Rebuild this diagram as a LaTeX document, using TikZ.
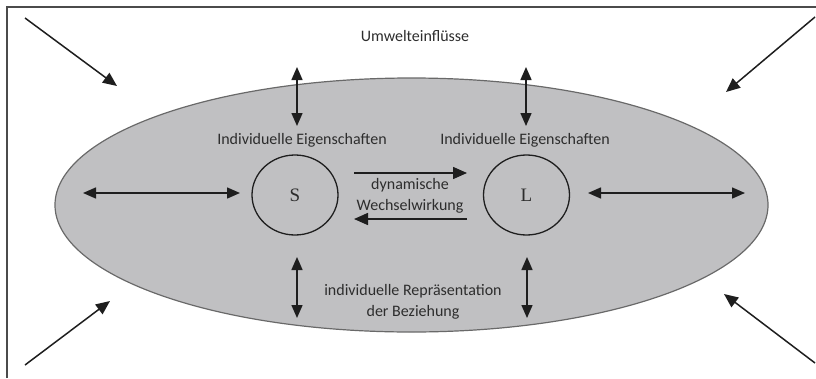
\documentclass[tikz,border=0pt]{standalone}
\usepackage{fontspec}
\setmainfont{Carlito}
\newfontfamily\serifft{Liberation Serif}
\usetikzlibrary{arrows.meta,shapes.geometric}
\definecolor{ellfill}{RGB}{192,192,194}
\definecolor{ellline}{RGB}{105,105,105}
\definecolor{ink}{RGB}{30,30,30}
\definecolor{txt}{RGB}{45,45,45}
\tikzset{
  arr/.style={draw=ink, line width=1.5pt, -{Triangle[length=14pt,width=12pt]}},
  darr/.style={draw=ink, line width=1.5pt, {Triangle[length=13pt,width=11pt]}-{Triangle[length=13pt,width=11pt]}},
  lbl/.style={text=txt, font=\fontsize{16}{19}\selectfont, align=center, inner sep=0pt},
  person/.style={ellipse, draw=ink, line width=1.3pt, minimum width=86pt, minimum height=80pt, inner sep=0pt, font=\serifft\fontsize{19}{21}\selectfont, text=txt}
}
\begin{document}
\begin{tikzpicture}[x=1pt,y=-1pt]
\useasboundingbox (0,0) rectangle (816,378);
% frame (top and left edges)
\draw[draw=ink!80, line width=1.8pt] (7,378) -- (7,7) -- (816,7);
% big ellipse
\node[ellipse, draw=ellline, fill=ellfill, line width=1.2pt, minimum width=713pt, minimum height=254pt, inner sep=0pt] (env) at (411.5,205) {};
% title
\node[lbl] (umw) at (415,36) {Umwelteinflüsse};
% persons
\node[person] (S) at (295,195) {S};
\node[person] (L) at (526.5,195) {L};
% labels
\node[lbl] (eigS) at (302,140) {Individuelle Eigenschaften};
\node[lbl] (eigL) at (525,140) {Individuelle Eigenschaften};
\node[lbl] (dyn) at (410,196) {dynamische\\[2pt]Wechselwirkung};
\node[lbl] (rep) at (413,302) {individuelle Repräsentation\\[2pt]der Beziehung};
% coordinates for free ends
\coordinate (tl0) at (25,18);   \coordinate (tl1) at (117,86);
\coordinate (tr0) at (815,17);  \coordinate (tr1) at (726,92);
\coordinate (bl0) at (25,365);  \coordinate (bl1) at (110,301);
\coordinate (br0) at (815,363); \coordinate (br1) at (724,294);
\coordinate (hl0) at (83,193);  \coordinate (hl1) at (240,193);
\coordinate (hr0) at (588,193); \coordinate (hr1) at (745,193);
\coordinate (vs0) at (297,67);  \coordinate (vs1) at (297,126);
\coordinate (vl0) at (526,67);  \coordinate (vl1) at (526,126);
\coordinate (ws0) at (297,257); \coordinate (ws1) at (297,318);
\coordinate (wl0) at (527,257); \coordinate (wl1) at (527,318);
\coordinate (d1a) at (354,173); \coordinate (d1b) at (467,173);
\coordinate (d2a) at (467,219); \coordinate (d2b) at (354,219);
% environment arrows
\draw[arr] (tl0) -- (tl1);
\draw[arr] (tr0) -- (tr1);
\draw[arr] (bl0) -- (bl1);
\draw[arr] (br0) -- (br1);
% double arrows
\draw[darr] (hl0) -- (hl1);
\draw[darr] (hr0) -- (hr1);
\draw[darr] (vs0) -- (vs1);
\draw[darr] (vl0) -- (vl1);
\draw[darr] (ws0) -- (ws1);
\draw[darr] (wl0) -- (wl1);
% interaction arrows
\draw[arr] (d1a) -- (d1b);
\draw[arr] (d2a) -- (d2b);
\end{tikzpicture}
\end{document}
